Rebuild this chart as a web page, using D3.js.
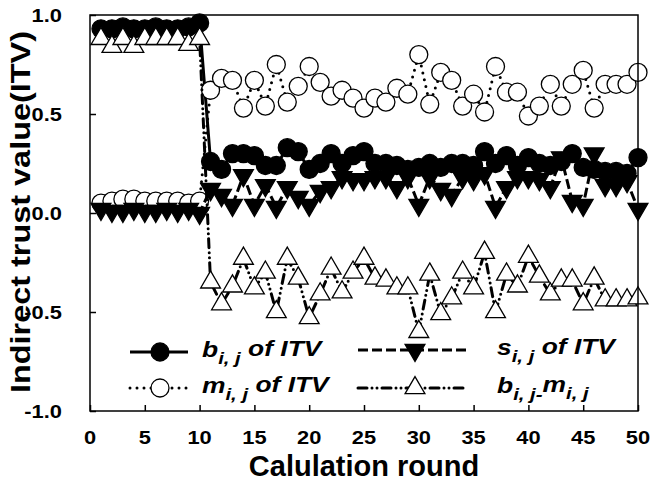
<!DOCTYPE html>
<html><head><meta charset="utf-8">
<script src="https://cdn.jsdelivr.net/npm/d3@7/dist/d3.min.js"></script>
<style>
body{margin:0;background:#fff}
svg{display:block}
text{font-family:"Liberation Sans",Arial,sans-serif;font-weight:bold;fill:#000}
</style>
</head><body>
<svg id="chart" width="650" height="482"></svg>
<script>
const rounds = [1,2,3,4,5,6,7,8,9,10,11,12,13,14,15,16,17,18,19,20,21,22,23,24,25,26,27,28,29,30,31,32,33,34,35,36,37,38,39,40,41,42,43,44,45,46,47,48,49,50];
const bITV = [0.93,0.93,0.94,0.93,0.93,0.94,0.93,0.93,0.94,0.96,
  0.26,0.22,0.30,0.30,0.29,0.24,0.24,0.33,0.31,0.22,0.25,0.30,0.25,0.29,0.31,0.25,0.25,0.24,0.22,0.23,
  0.25,0.23,0.25,0.25,0.24,0.31,0.25,0.29,0.24,0.28,0.25,0.24,0.26,0.30,0.23,0.22,0.21,0.21,0.20,0.28];
const sITV = [0.02,0.01,0.01,0.02,0.01,0.01,0.02,0.01,0.02,0.00,
  0.12,0.09,0.04,0.19,0.04,0.14,0.03,0.13,0.08,0.04,0.11,0.13,0.18,0.17,0.17,0.18,0.18,0.13,0.18,0.04,
  0.18,0.12,0.09,0.18,0.17,0.20,0.03,0.13,0.18,0.18,0.17,0.13,0.28,0.06,0.04,0.30,0.14,0.14,0.16,0.02];
const mITV = [0.05,0.06,0.07,0.07,0.06,0.06,0.06,0.06,0.05,0.06,
  0.62,0.68,0.67,0.53,0.67,0.54,0.75,0.56,0.64,0.74,0.66,0.59,0.62,0.58,0.53,0.58,0.56,0.63,0.60,0.80,
  0.55,0.71,0.67,0.54,0.60,0.51,0.74,0.61,0.61,0.49,0.54,0.65,0.54,0.65,0.72,0.53,0.65,0.65,0.65,0.71];
const bMinusM = [0.88,0.84,0.88,0.84,0.88,0.88,0.88,0.88,0.85,0.88,
  -0.35,-0.46,-0.37,-0.23,-0.38,-0.30,-0.50,-0.23,-0.33,-0.53,-0.41,-0.28,-0.40,-0.30,-0.23,-0.33,-0.34,-0.38,-0.38,-0.60,
  -0.31,-0.51,-0.43,-0.30,-0.38,-0.20,-0.50,-0.31,-0.37,-0.22,-0.32,-0.41,-0.34,-0.34,-0.46,-0.33,-0.44,-0.44,-0.44,-0.43];
const xTicks = [0,5,10,15,20,25,30,35,40,45,50];
const xTickLabels = ["0","5","10","15","20","25","30","35","40","45","50"];
const yTicks = [-1,-0.5,0,0.5,1];
const yTickLabels = ["-1.0","-0.5","0.0","0.5","1.0"];

const svg = d3.select("#chart");
const L=90, R=638, T=15, B=411;
const x = d3.scaleLinear().domain([0,50]).range([L,R]);
const y = d3.scaleLinear().domain([-1,1]).range([B,T]);

// ticks (inward)
const gx = svg.append("g").attr("transform",`translate(0,${B})`)
  .call(d3.axisBottom(x).tickValues(xTicks).tickSize(-6).tickFormat(""));
const gy = svg.append("g").attr("transform",`translate(${L},0)`)
  .call(d3.axisLeft(y).tickValues(yTicks).tickSize(-6).tickFormat(""));
[gx,gy].forEach(g=>{g.select(".domain").remove(); g.selectAll("line").attr("stroke","#000").attr("stroke-width",1.5);});

// tick labels
xTicks.forEach((v,i)=>{
  svg.append("text").attr("transform",`translate(${x(v)},444) scale(1.15,1)`)
    .attr("text-anchor","middle").attr("font-size",19).text(xTickLabels[i]);
});
yTicks.forEach((v,i)=>{
  svg.append("text").attr("transform",`translate(62,${y(v)+7}) scale(1.15,1)`)
    .attr("text-anchor","end").attr("font-size",19).text(yTickLabels[i]);
});

// titles
svg.append("text").attr("x",(L+R)/2).attr("y",476).attr("text-anchor","middle")
  .attr("font-size",29).text("Calulation round");
svg.append("text").attr("transform",`translate(30,212) rotate(-90)`).attr("text-anchor","middle")
  .attr("font-size",27).attr("textLength",362).attr("lengthAdjust","spacingAndGlyphs")
  .text("Indirect trust value(ITV)");

// series
const series = [
  {vals:bITV, dash:null, cap:"butt", sym:"circle", fill:"#000"},
  {vals:mITV, dash:"0,7", cap:"round", sym:"circle", fill:"#fff"},
  {vals:sITV, dash:"10,4", cap:"butt", sym:"down", fill:"#000"},
  {vals:bMinusM, dash:"9,5,0,5,0,5", cap:"round", sym:"up", fill:"#fff"}
];
const triSize = 170;
function drawMarker(g, sym, fill, cx, cy){
  if(sym==="circle"){
    g.append("circle").attr("cx",cx).attr("cy",cy).attr("r",9)
      .attr("fill",fill).attr("stroke","#000").attr("stroke-width",1.3);
  } else {
    g.append("path").attr("d",d3.symbol(d3.symbolTriangle,triSize)())
      .attr("transform",`translate(${cx},${cy})${sym==="down"?" rotate(180)":""}`)
      .attr("fill",fill).attr("stroke","#000").attr("stroke-width",1.3);
  }
}
const line = d3.line().x((d,i)=>x(rounds[i])).y(d=>y(d));
series.forEach(s=>{
  const g = svg.append("g");
  g.append("path").attr("d",line(s.vals)).attr("fill","none").attr("stroke","#000")
    .attr("stroke-width",3).attr("stroke-linecap",s.cap)
    .attr("stroke-dasharray",s.dash);
  s.vals.forEach((v,i)=>drawMarker(g, s.sym, s.fill, x(rounds[i]), y(v)));
});

// frame
svg.append("rect").attr("x",L).attr("y",T).attr("width",R-L).attr("height",B-T)
  .attr("fill","none").attr("stroke","#000").attr("stroke-width",1.5);

// legend
const legend = [
  {x1:130,x2:188,mx:160,yy:352,si:0,tx:202,parts:[["b",0],["i, j",1],[" of ITV",-1]]},
  {x1:358,x2:470,mx:415,yy:350,si:2,tx:497,parts:[["s",0],["i, j",1],[" of ITV",-1]]},
  {x1:130,x2:188,mx:160,yy:388,si:1,tx:202,parts:[["m",0],["i, j",1],[" of ITV",-1]]},
  {x1:358,x2:465,mx:415,yy:388,si:3,tx:497,parts:[["b",0],["i, j",1],["-",2],["m",-1],["i, j",1]]}
];
legend.forEach(l=>{
  const s = series[l.si];
  const g = svg.append("g");
  g.append("line").attr("x1",l.x1).attr("x2",l.x2).attr("y1",l.yy).attr("y2",l.yy)
    .attr("stroke","#000").attr("stroke-width",3).attr("stroke-linecap",s.cap)
    .attr("stroke-dasharray",s.dash);
  drawMarker(g, s.sym, s.fill, l.mx, l.yy);
  const t = g.append("text").attr("transform",`translate(${l.tx},${l.yy+5}) scale(1.2,1)`)
    .attr("font-style","italic");
  l.parts.forEach(([txt,kind])=>{
    const ts = t.append("tspan").text(txt).style("white-space","pre");
    if(kind===0){ ts.attr("font-size",22); }
    else if(kind===1){ ts.attr("font-size",17).attr("dy",7); }
    else if(kind===2){ ts.attr("font-size",17); }
    else { ts.attr("font-size",22).attr("dy",-8); }
  });
});
</script>
</body></html>
